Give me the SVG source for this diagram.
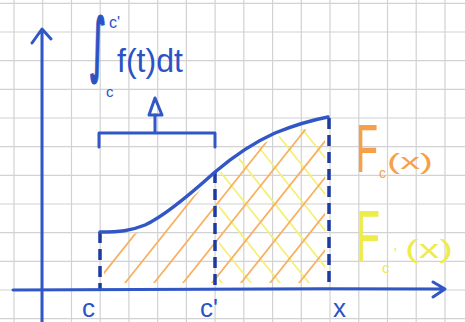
<svg xmlns="http://www.w3.org/2000/svg" width="465" height="322" viewBox="0 0 465 322">
<defs>
<style>
.grid{stroke:#d2d2d2;stroke-width:1.2;fill:none}
.axis{stroke:#3157c6;stroke-width:3;fill:none;stroke-linecap:round;stroke-linejoin:round}
.dash{stroke:#1d3a9e;stroke-width:3.5;fill:none;stroke-dasharray:11 6}
.curve{stroke:#3157c6;stroke-width:3.5;fill:none;stroke-linecap:round}
.ho{stroke:#f8b062;stroke-width:1.8;stroke-linecap:round}
.hy{stroke:#f4f07a;stroke-width:1.8;stroke-linecap:round}
.blue{fill:#2c52c4;font-family:"Liberation Sans",sans-serif}
.or{fill:#f6a04a;font-family:"Liberation Sans",sans-serif}
.ye{fill:#eeec4a;font-family:"Liberation Sans",sans-serif}
</style>
<clipPath id="under"><path d="M104,237 C120,237 130,236 145,230 C165,221 195,195 215,177 C235,160 255,147 275,138 C295,130 312,125 325,122 L325,283 L104,283 Z"/></clipPath>
<clipPath id="right"><rect x="219" y="100" width="106" height="183"/></clipPath>
</defs>
<rect width="465" height="322" fill="#ffffff"/>
<g id="grid" class="grid">
<path d="M14,0V322M42.7,0V322M71.5,0V322M100.2,0V322M128.9,0V322M157.7,0V322M186.4,0V322M215.1,0V322M243.8,0V322M272.6,0V322M301.3,0V322M330,0V322M358.8,0V322M387.5,0V322M416.2,0V322M445,0V322"/>
<path d="M0,3.3H465M0,32H465M0,60.7H465M0,89.3H465M0,118H465M0,146.7H465M0,175.3H465M0,204H465M0,232.7H465M0,261.3H465M0,290H465M0,318.7H465"/>
</g>
<g id="hatch-yellow" clip-path="url(#under)">
<g clip-path="url(#right)">
<path class="hy" d="M100,130L222,283M129,130L251,283M158,130L280,283M187,130L309,283M216,130L338,283M245,130L367,283M274,130L396,283M303,130L425,283"/>
</g>
</g>
<g id="hatch-orange" clip-path="url(#under)">
<path class="ho" d="M38,283L160,130M67,283L189,130M96,283L218,130M125,283L247,130M154,283L276,130M183,283L305,130M212,283L334,130M241,283L363,130M270,283L392,130M299,283L421,130"/>
</g>
<g id="connectors">
<path class="dash" d="M100,232V290"/>
<path class="dash" d="M215,172V290"/>
<path class="dash" d="M329,118V290"/>
</g>
<g id="axes">
<path class="axis" d="M42,322V30M32,43L42,29L51,39"/>
<path class="axis" d="M13,290C150,290 300,288 445,289M433,282L445,289L433,297"/>
</g>
<g id="curve">
<path class="curve" d="M100,232 C120,232 130,231 145,225 C165,216 195,190 215,172 C235,155 255,142 275,133 C295,125 312,120 328,117"/>
</g>
<g id="bracket">
<path class="axis" d="M99,147V133H215V147M155,133V115"/>
<path class="axis" d="M149,115L155,98L162,115Z" fill="#ffffff"/>
</g>
<g id="integral">
<text class="blue"><tspan x="90" y="68" font-size="70" font-family="DejaVu Sans" font-weight="bold" stroke="#2c52c4" stroke-width="1.2" textLength="16" lengthAdjust="spacingAndGlyphs">∫</tspan><tspan x="109" y="28" font-size="16">c'</tspan><tspan x="106" y="97" font-size="15">c</tspan><tspan x="117" y="72" font-size="34" textLength="66" lengthAdjust="spacingAndGlyphs">f(t)dt</tspan></text>
</g>
<g id="labels">
<text class="blue" x="82" y="317" font-size="26">c</text>
<text class="blue" x="200" y="317" font-size="26">c'</text>
<text class="blue" x="333" y="317" font-size="26">x</text>
</g>
<g id="Fc">
<text class="or"><tspan x="356" y="172" font-size="68" textLength="22" lengthAdjust="spacingAndGlyphs">F</tspan><tspan x="379" y="178" font-size="14">c</tspan><tspan x="387" y="169" font-size="22" textLength="46" lengthAdjust="spacingAndGlyphs">(x)</tspan></text>
</g>
<g id="Fcp">
<text class="ye"><tspan x="356" y="262" font-size="74" textLength="24" lengthAdjust="spacingAndGlyphs">F</tspan><tspan x="382" y="273" font-size="15">c</tspan><tspan x="394" y="258" font-size="14">'</tspan><tspan x="405" y="258" font-size="26" textLength="48" lengthAdjust="spacingAndGlyphs">(x)</tspan></text>
</g>
</svg>
